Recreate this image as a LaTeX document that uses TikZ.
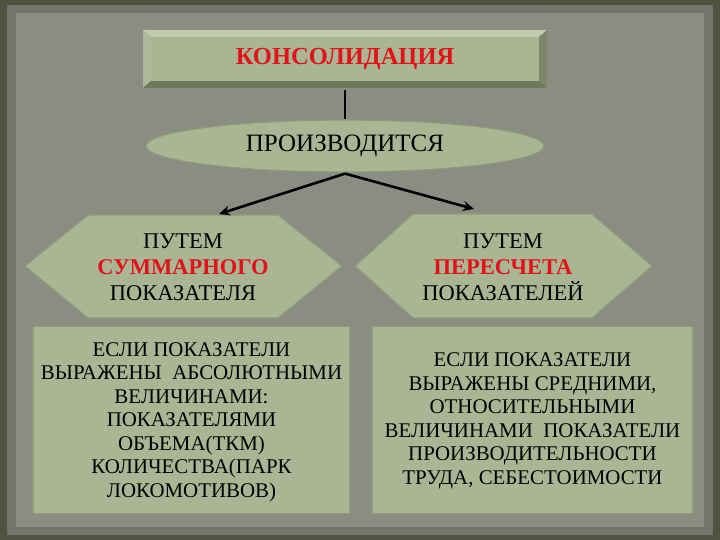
\documentclass[tikz,border=0pt]{standalone}
\usepackage{fontspec}
\setmainfont{Liberation Serif}
\usetikzlibrary{shapes.geometric,arrows.meta}
\definecolor{bgdark}{HTML}{4F5440}
\definecolor{bgmid}{HTML}{72766A}
\definecolor{bgin}{HTML}{8B8D83}
\definecolor{face}{HTML}{A9B593}
\definecolor{faceedge}{HTML}{8E9A78}
\definecolor{bevlight}{HTML}{C3CBAD}
\definecolor{bevdark}{HTML}{6F7959}
\definecolor{redtxt}{HTML}{E3121A}
\tikzset{
  body/.style={font=\fontsize{20.9}{23.5}\selectfont, align=center, text=black},
  hextxt/.style={font=\fontsize{22.5}{26}\selectfont, align=center, text=black},
  boxface/.style={fill=face, draw=faceedge, line width=1.2pt},
  conn/.style={line width=2.6pt, black},
  arr/.style={conn, -{Stealth[length=11pt,width=10pt]}},
}
\begin{document}
\begin{tikzpicture}[x=1pt,y=-1pt]
\useasboundingbox (0,0) rectangle (720,540);
% background
\fill[bgdark] (0,0) rectangle (720,540);
\fill[bgmid] (7,5) rectangle (713,535);
\fill[bgin] (16,13) rectangle (704,527);
% top bevelled box
\fill[faceedge] (143,30) rectangle (547,88);
\fill[bevlight] (143,30) -- (547,30) -- (539,37) -- (151,37) -- cycle;
\fill[bevlight!90!black] (143,30) -- (151,37) -- (151,81) -- (143,88) -- cycle;
\fill[bevdark] (143,88) -- (151,81) -- (539,81) -- (547,88) -- cycle;
\fill[bevdark!90!white] (547,30) -- (539,37) -- (539,81) -- (547,88) -- cycle;
\node[fill=face, minimum width=388pt, minimum height=44pt, inner sep=0pt,
      font=\fontsize{24.5}{26}\selectfont\bfseries, text=redtxt] (top) at (345,59) {КОНСОЛИДАЦИЯ};
% ellipse
\node[ellipse, boxface, minimum width=398pt, minimum height=52pt, inner sep=0pt,
      font=\fontsize{25}{27}\selectfont] (proc) at (345,146) {ПРОИЗВОДИТСЯ};
\draw[conn] (top.south |- 0,90) -- (proc.north);
% hexagons
\fill[face, draw=faceedge, line width=1.2pt] (25,266) -- (88,215) -- (278,215) -- (342,266) -- (278,318) -- (88,318) -- cycle;
\node[hextxt] (h1) at (183,267) {ПУТЕМ\\\textcolor{redtxt}{\bfseries СУММАРНОГО}\\ПОКАЗАТЕЛЯ};
\fill[face, draw=faceedge, line width=1.2pt] (355,266) -- (413,214) -- (592,214) -- (652,266) -- (592,318) -- (413,318) -- cycle;
\node[hextxt] (h2) at (503,267) {ПУТЕМ\\\textcolor{redtxt}{\bfseries ПЕРЕСЧЕТА}\\ПОКАЗАТЕЛЕЙ};
% arrows
\coordinate (lt) at (219,214);
\coordinate (rt) at (474,209);
\draw[conn] (proc.south) -- ++(0,1) coordinate (split);
\draw[arr] (split) -- (lt);
\draw[arr] (split) -- (rt);
% bottom boxes
\node[boxface, minimum width=317pt, minimum height=187pt, inner sep=0pt] (b1) at (191.5,420) {};
\node[body] at ([yshift=-2pt]b1.center) {ЕСЛИ ПОКАЗАТЕЛИ\\ВЫРАЖЕНЫ \ АБСОЛЮТНЫМИ\\ВЕЛИЧИНАМИ:\\ПОКАЗАТЕЛЯМИ\\ОБЪЕМА(ТКМ)\\КОЛИЧЕСТВА(ПАРК\\ЛОКОМОТИВОВ)};
\node[boxface, minimum width=321pt, minimum height=187pt, inner sep=0pt] (b2) at (532.5,420) {};
\node[body] at ([yshift=-1pt]b2.center) {ЕСЛИ ПОКАЗАТЕЛИ\\ВЫРАЖЕНЫ СРЕДНИМИ,\\ОТНОСИТЕЛЬНЫМИ\\ВЕЛИЧИНАМИ \ ПОКАЗАТЕЛИ\\ПРОИЗВОДИТЕЛЬНОСТИ\\ТРУДА, СЕБЕСТОИМОСТИ};
\end{tikzpicture}
\end{document}
